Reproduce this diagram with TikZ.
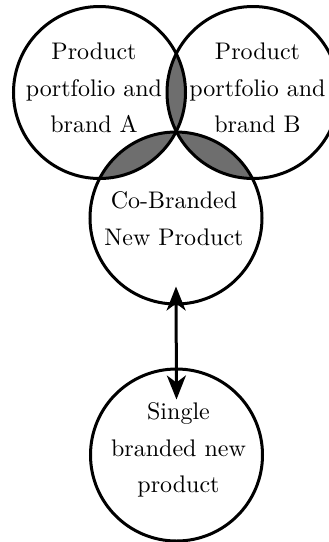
\documentclass[tikz,border=0pt]{standalone}
\usepackage{fontspec}
\setmainfont{lmroman10-regular.otf}
\usetikzlibrary{arrows.meta,calc,backgrounds}
\begin{document}
\begin{tikzpicture}[x=1pt,y=-1pt,
  disc/.style={circle,draw,line width=3pt,minimum size=172pt,inner sep=0pt},
  words/.style={align=center,font=\fontsize{24}{36.5}\selectfont,inner sep=0pt},
  lens/.style={fill=black!57},
  tip/.tip={Stealth[length=24pt,width=19pt,inset=7pt]},
  link/.style={line width=3pt,tip-tip}]
\clip (0,0) rectangle (329,542);

% the four circles
\node[disc] (a) at (99.5,92.5) {};
\node[disc] (b) at (253,92.5) {};
\node[disc] (c) at (176,218) {};
\node[disc] (d) at (176.5,455) {};

% shaded overlaps of the three upper circles
\begin{scope}[on background layer]
  \begin{scope}
    \clip (a.center) circle[radius=86pt];
    \fill[lens] (b.center) circle[radius=86pt];
    \fill[lens] (c.center) circle[radius=86pt];
  \end{scope}
  \begin{scope}
    \clip (b.center) circle[radius=86pt];
    \fill[lens] (c.center) circle[radius=86pt];
  \end{scope}
\end{scope}

% labels
\node[words] (ta) at (94,88) {Product\\portfolio and\\brand A};
\node[words] (tb) at (257.5,88) {Product\\portfolio and\\brand B};
\node[words] (tc) at (174,218.5) {Co-Branded\\New Product};
\node[words] (td) at (178.5,450) {Single\\branded new\\product};

% two-way link between the co-branded and single-branded products
\draw[link] ($(c.south)+(0,-19)$) -- ($(d.north)+(0,32)$);
\end{tikzpicture}
\end{document}
